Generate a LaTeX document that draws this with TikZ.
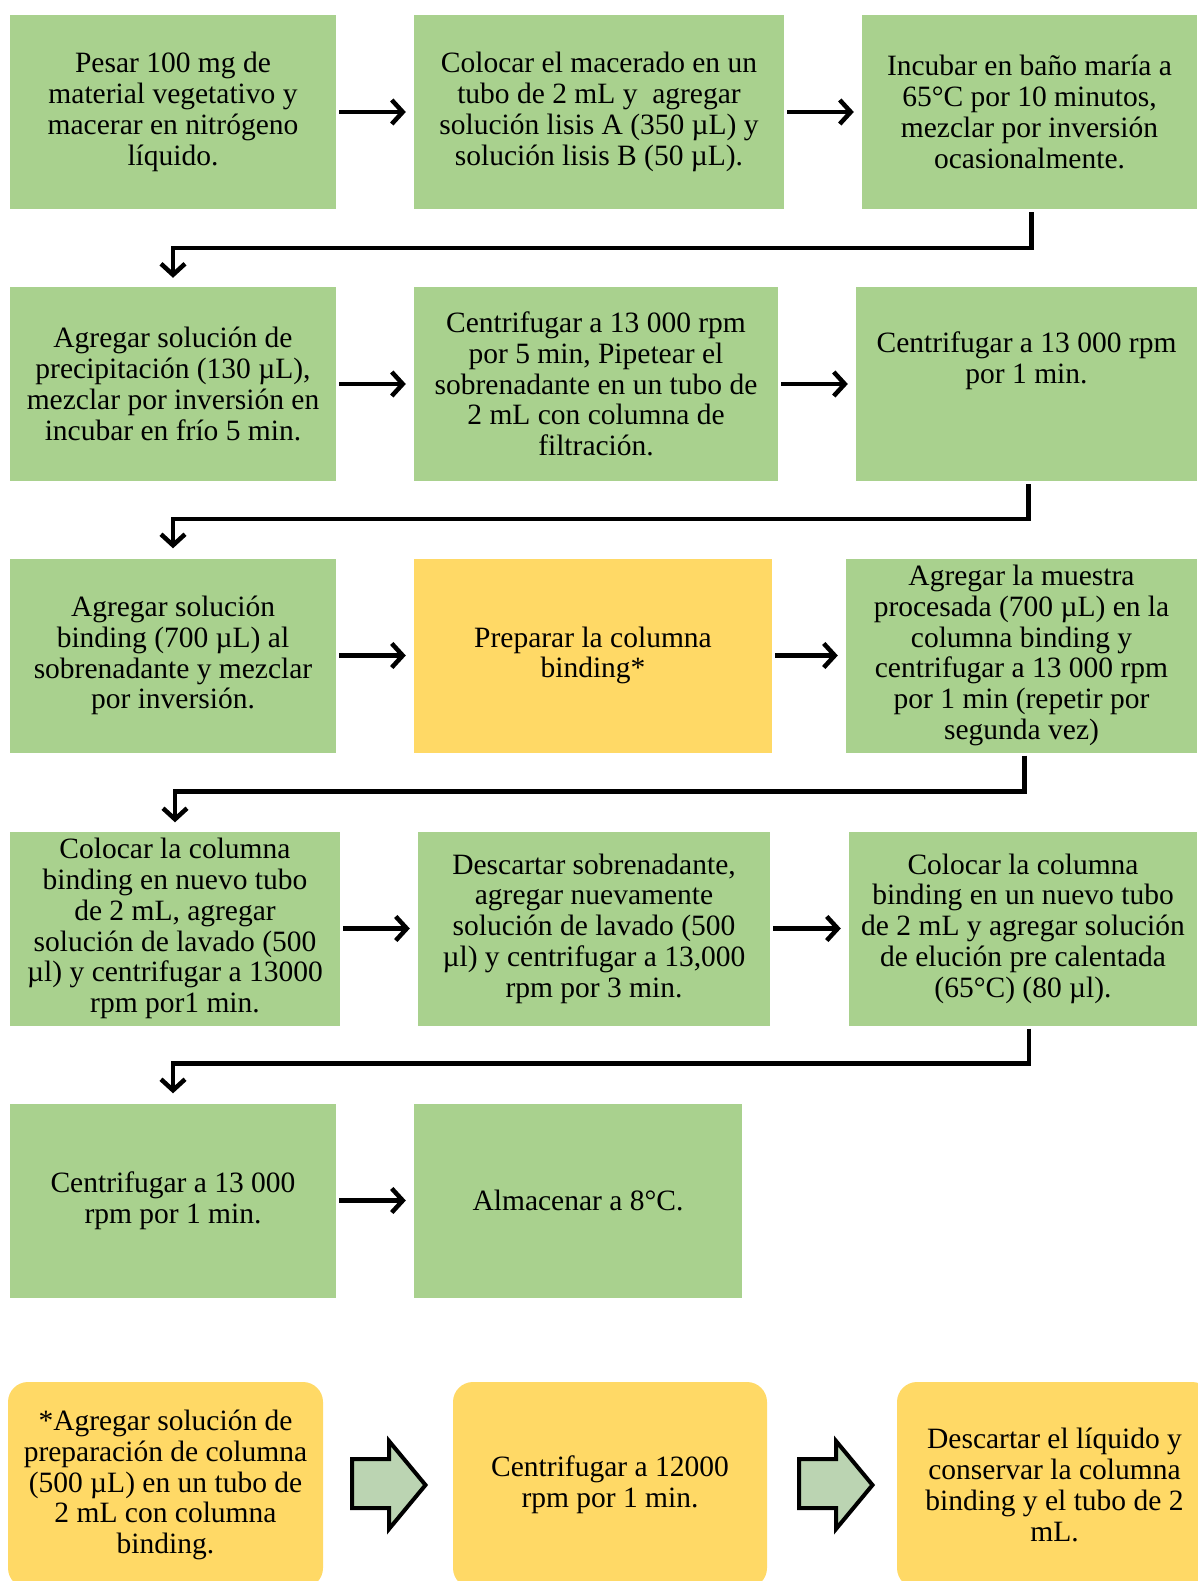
\documentclass[tikz,border=0pt]{standalone}
\usepackage{fontspec}
\setmainfont{Liberation Serif}
\usetikzlibrary{arrows.meta, calc}
\definecolor{stepgreen}{RGB}{169,209,142}
\definecolor{stepyellow}{RGB}{255,217,102}
\definecolor{arrowgreen}{RGB}{187,212,178}
\newcommand{\stepfont}{\fontsize{29.5}{30.8}\selectfont}

\begin{document}
\begin{tikzpicture}[x=1pt, y=-1pt,
    stepbox/.style={fill=stepgreen, inner sep=0pt, align=center, font=\stepfont, minimum height=194pt},
    prepbox/.style={fill=stepyellow, rounded corners=20pt, inner sep=0pt, align=center, font=\stepfont, minimum height=206pt},
    link/.style={draw=black, line width=4.5pt, -{Straight Barb[length=11pt, width=24pt]}},
    bigarrow/.style={draw=black, line width=4pt, fill=arrowgreen, line join=miter}]
    \useasboundingbox (0,0) rectangle (1197,1581);

    % Row 1
    \node[stepbox, minimum width=326pt] (c1) at (173,112) {Pesar 100 mg de\\material vegetativo y\\macerar en nitrógeno\\líquido.};
    \node[stepbox, minimum width=370pt] (c2) at (599,112) {Colocar el macerado en un\\tubo de 2 mL y\ \ agregar\\solución lisis A (350 µL) y\\solución lisis B (50 µL).};
    \node[stepbox, minimum width=335pt] (c3) at (1029.5,112) {Incubar en baño maría a\\65°C por 10 minutos,\\mezclar por inversión\\ocasionalmente.};

    % Row 2
    \node[stepbox, minimum width=326pt] (c4) at (173,384) {Agregar solución de\\precipitación (130 µL),\\mezclar por inversión en\\incubar en frío 5 min.};
    \node[stepbox, minimum width=364pt] (c5) at (596,384) {Centrifugar a 13 000 rpm\\por 5 min, Pipetear el\\sobrenadante en un tubo de\\2 mL con columna de\\filtración.};
    \node[stepbox, minimum width=341pt] (c6) at (1026.5,384) {};
    \node[font=\stepfont, align=center] (c6text) at (1026.5,361) {Centrifugar a 13 000 rpm\\por 1 min.};

    % Row 3
    \node[stepbox, minimum width=326pt] (c7) at (173,655.5) {Agregar solución\\binding (700 µL) al\\sobrenadante y mezclar\\por inversión.};
    \node[stepbox, fill=stepyellow, minimum width=358pt] (c8) at (593,655.5) {Preparar la columna\\binding*};
    \node[stepbox, minimum width=351pt] (c9) at (1021.5,655.5) {Agregar la muestra\\procesada (700 µL) en la\\columna binding y\\centrifugar a 13 000 rpm\\por 1 min (repetir por\\segunda vez)};

    % Row 4
    \node[stepbox, minimum width=330pt] (c10) at (175,928.5) {Colocar la columna\\binding en nuevo tubo\\de 2 mL, agregar\\solución de lavado (500\\µl) y centrifugar a 13000\\rpm por1 min.};
    \node[stepbox, minimum width=352pt] (c11) at (594,928.5) {Descartar sobrenadante,\\agregar nuevamente\\solución de lavado (500\\µl) y centrifugar a 13,000\\rpm por 3 min.};
    \node[stepbox, minimum width=348pt] (c12) at (1023,928.5) {Colocar la columna\\binding en un nuevo tubo\\de 2 mL y agregar solución\\de elución pre calentada\\(65°C) (80 µl).};

    % Row 5
    \node[stepbox, minimum width=326pt] (c13) at (173,1200.5) {Centrifugar a 13 000\\rpm por 1 min.};
    \node[stepbox, minimum width=328pt] (c14) at (578,1200.5) {Almacenar a 8°C.};

    % Column preparation
    \node[prepbox, minimum width=315pt] (p1) at (165.5,1485) {*Agregar solución de\\preparación de columna\\(500 µL) en un tubo de\\2 mL con columna\\binding.};
    \node[prepbox, minimum width=314pt] (p2) at (610,1485) {Centrifugar a 12000\\rpm por 1 min.};
    \node[prepbox, minimum width=315pt] (p3) at (1054.5,1485) {Descartar el líquido y\\conservar la columna\\binding y el tubo de 2\\mL.};

    % Arrows within rows
    \draw[link] ([xshift=3pt]c1.east) -- ([xshift=-8pt]c2.west);
    \draw[link] ([xshift=3pt]c2.east) -- ([xshift=-8pt]c3.west);
    \draw[link] ([xshift=3pt]c4.east) -- ([xshift=-8pt]c5.west);
    \draw[link] ([xshift=3pt]c5.east) -- ([xshift=-8pt]c6.west);
    \draw[link] ([xshift=3pt]c7.east) -- ([xshift=-8pt]c8.west);
    \draw[link] ([xshift=3pt]c8.east) -- ([xshift=-8pt]c9.west);
    \draw[link] ([xshift=3pt]c10.east) -- ([xshift=-8pt]c11.west);
    \draw[link] ([xshift=3pt]c11.east) -- ([xshift=-8pt]c12.west);
    \draw[link] ([xshift=3pt]c13.east) -- ([xshift=-8pt]c14.west);

    % Arrows between rows
    \draw[link] ([xshift=2pt, yshift=-3pt]c3.south) -- ++(0,36) -| ([yshift=9pt]c4.north);
    \draw[link] ([xshift=2pt, yshift=-3pt]c6.south) -- ++(0,35) -| ([yshift=10pt]c7.north);
    \draw[link] ([xshift=3pt, yshift=-3pt]c9.south) -- ++(0,36) -| ([yshift=9pt]c10.north);
    \draw[link] ([xshift=6pt, yshift=-3pt]c12.south) -- ++(0,35) -| ([yshift=10pt]c13.north);

    % Block arrows
    \foreach \ax in {352,799} {
        \draw[bigarrow] (\ax,1459) -- ++(37,0) -- ++(0,-18) -- ++(36.5,44) -- ++(-36.5,44) -- ++(0,-21) -- ++(-37,0) -- cycle;
    }
\end{tikzpicture}
\end{document}
